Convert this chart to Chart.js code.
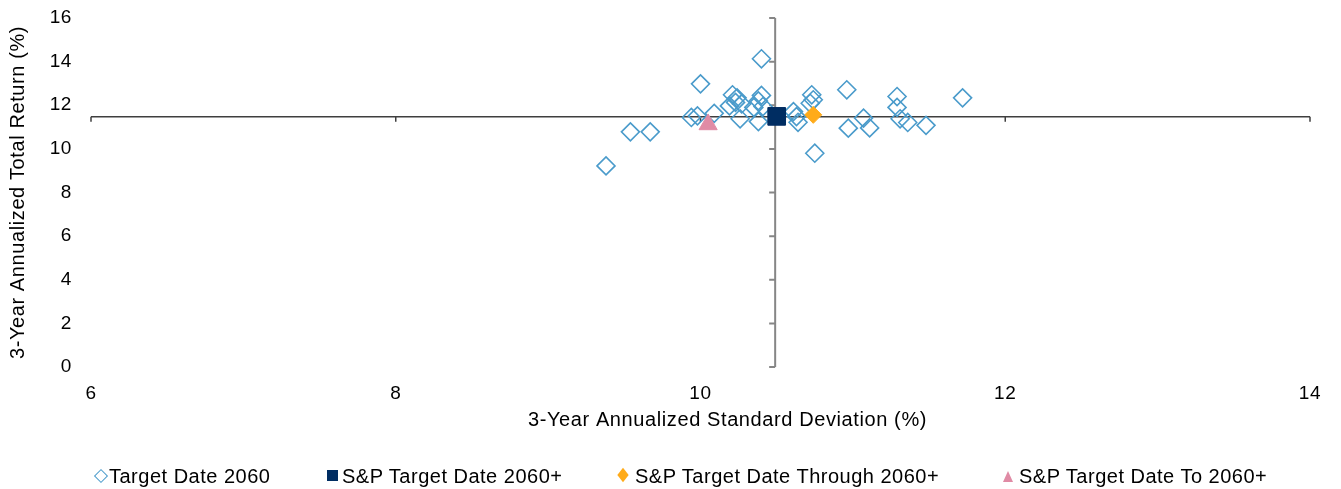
<!DOCTYPE html>
<html>
<head>
<meta charset="utf-8">
<script src="https://cdn.jsdelivr.net/npm/chart.js@4.4.0/dist/chart.umd.min.js"></script>
<style>
  body { margin: 0; background: #fff; }
  #wrap { position: relative; width: 1341px; height: 489px; }
  #graphe { position: absolute; left: 0; top: 0; }
  .leg { position: absolute; top: 466px; font: 20px "Liberation Sans", Arial, sans-serif; letter-spacing: 0.5px; line-height: 20px; color: #000; white-space: nowrap; }
  .mk { position: absolute; }
</style>
</head>
<body>
<div id="wrap">
  <canvas id="graphe" width="1341" height="489"></canvas>
</div>
<script>
//******************************************************************** Données *****************************************************************

// fonds Target Date 2060 : écart-type 3 ans (%) et rendement 3 ans (%)
const fundSD     = [9.38, 9.54, 9.67, 10.00, 9.94, 9.98, 10.09, 10.21, 10.24, 10.23, 10.19, 10.27, 10.40, 10.38, 10.35, 10.41, 10.26, 10.38, 10.40, 10.61, 10.63, 10.64, 10.73, 10.74, 10.72, 10.75, 10.96, 10.97, 11.07, 11.11, 11.29, 11.29, 11.31, 11.36, 11.48, 11.72]
const fundReturn = [9.22, 10.78, 10.78, 12.98, 11.44, 11.51, 11.63, 12.48, 12.34, 12.13, 11.97, 12.06, 12.45, 12.20, 11.90, 11.94, 11.38, 11.25, 14.13, 11.71, 11.48, 11.22, 12.48, 12.25, 12.09, 9.80, 12.71, 10.95, 11.41, 10.96, 12.40, 11.90, 11.38, 11.21, 11.08, 12.34]

// indices S&P
const sp2060SD = [10.50],        sp2060Return = [11.49]
const spThroughSD = [10.74],     spThroughReturn = [11.56]
const spToSD = [10.05],          spToReturn = [11.12]

const seriesNames = ['Target Date 2060', 'S&P Target Date 2060+', 'S&P Target Date Through 2060+', 'S&P Target Date To 2060+']
const X_TITLE = '3-Year Annualized Standard Deviation (%)'
const Y_TITLE = '3-Year Annualized Total Return (%)'

const X_TICKS = [6, 8, 10, 12, 14]
const Y_TICKS = [0, 2, 4, 6, 8, 10, 12, 14, 16]

// les axes se croisent sur l'indice S&P Target Date 2060+
const CROSS_X = 10.49
const CROSS_Y = 11.47

const BLUE = '#4a9bcb'
const NAVY = '#002d62'
const ORANGE = '#ffab1a'
const PINK = '#e08ba5'
const FONT = '"Liberation Sans", Arial, sans-serif'

function toPoints(xs, ys) {
  return xs.map((x, i) => ({ x: x, y: ys[i] }))
}

//******************************************************************** Plugins *****************************************************************

// un peu d'espacement entre les lettres pour coller à la police d'origine
const espacement = {
  id: 'espacement',
  beforeDraw(chart) {
    chart.ctx.letterSpacing = '0.6px'
  }
}

// axes qui se croisent au milieu du nuage de points
const axesCroises = {
  id: 'axesCroises',
  beforeDatasetsDraw(chart) {
    const { ctx, chartArea, scales } = chart
    const xPix = scales.x.getPixelForValue(CROSS_X)
    const yPix = scales.y.getPixelForValue(CROSS_Y)
    ctx.save()

    // ligne horizontale
    ctx.strokeStyle = '#3f3f3f'
    ctx.lineWidth = 1.5
    ctx.beginPath()
    ctx.moveTo(chartArea.left, yPix)
    ctx.lineTo(chartArea.right, yPix)
    for (const t of X_TICKS) {
      const px = scales.x.getPixelForValue(t)
      ctx.moveTo(px, yPix)
      ctx.lineTo(px, yPix + 5)
    }
    ctx.stroke()

    // ligne verticale
    ctx.strokeStyle = '#868686'
    ctx.lineWidth = 2
    ctx.beginPath()
    ctx.moveTo(xPix, chartArea.top)
    ctx.lineTo(xPix, chartArea.bottom)
    for (const t of Y_TICKS) {
      const py = scales.y.getPixelForValue(t)
      ctx.moveTo(xPix, py)
      ctx.lineTo(xPix - 6, py)
    }
    ctx.stroke()
    ctx.restore()
  },
  // titre de l'axe x, un peu décalé à droite comme sur l'original
  afterDraw(chart) {
    const { ctx, chartArea } = chart
    ctx.save()
    ctx.font = '20px ' + FONT
    ctx.fillStyle = '#000'
    ctx.textAlign = 'center'
    ctx.textBaseline = 'middle'
    ctx.fillText(X_TITLE, (chartArea.left + chartArea.right) / 2 + 27, chartArea.bottom + 53)
    ctx.restore()
  }
}

//******************************************************************** Graphe *****************************************************************

const DATAGRAPH = {
  datasets: [
    {
      label: seriesNames[0],
      data: toPoints(fundSD, fundReturn),
      pointStyle: 'rectRot',
      pointRadius: 9,
      borderColor: BLUE,
      backgroundColor: 'rgba(0,0,0,0)',
      borderWidth: 1.6,
      order: 4
    },
    {
      label: seriesNames[1],
      data: toPoints(sp2060SD, sp2060Return),
      pointStyle: 'rect',
      pointRadius: 12.5,
      borderColor: NAVY,
      backgroundColor: NAVY,
      borderWidth: 1,
      order: 3
    },
    {
      label: seriesNames[2],
      data: toPoints(spThroughSD, spThroughReturn),
      pointStyle: 'rectRot',
      pointRadius: 8.5,
      borderColor: ORANGE,
      backgroundColor: ORANGE,
      borderWidth: 1,
      order: 2
    },
    {
      label: seriesNames[3],
      data: toPoints(spToSD, spToReturn),
      pointStyle: 'triangle',
      pointRadius: 10.5,
      borderColor: PINK,
      backgroundColor: PINK,
      borderWidth: 1,
      order: 1
    }
  ]
}

const config = {
  type: 'scatter',
  data: DATAGRAPH,
  options: {
    responsive: false,
    animation: false,
    events: [],
    layout: { padding: { top: 18, right: 31, bottom: 52, left: 0 } },
    plugins: {
      legend: { display: false },
      tooltip: { enabled: false }
    },
    scales: {
      x: {
        type: 'linear',
        min: 6,
        max: 14,
        afterBuildTicks: (scale) => { scale.ticks = X_TICKS.map(v => ({ value: v })) },
        afterFit: (scale) => { scale.height = 70; scale.paddingLeft = 0; scale.paddingRight = 0 },
        grid: { display: false, drawTicks: false },
        border: { display: false },
        ticks: { color: '#000', padding: 15, font: { family: FONT, size: 19 } },
        title: { display: false, text: X_TITLE }
      },
      y: {
        type: 'linear',
        min: 0,
        max: 16,
        afterBuildTicks: (scale) => { scale.ticks = Y_TICKS.map(v => ({ value: v })) },
        afterFit: (scale) => { scale.width = 91; scale.paddingTop = 0; scale.paddingBottom = 0 },
        grid: { display: false, drawTicks: false },
        border: { display: false },
        ticks: { color: '#000', padding: 19, font: { family: FONT, size: 19 } },
        title: {
          display: true,
          text: Y_TITLE,
          color: '#000',
          padding: { top: 6, bottom: 0 },
          font: { family: FONT, size: 20 }
        }
      }
    }
  },
  plugins: [espacement, axesCroises]
}

const chart = new Chart(document.getElementById('graphe'), config)

//******************************************************************** Légende *****************************************************************

// légende en HTML pour placer chaque élément comme sur l'original
const legendItems = [
  { textLeft: 109,  marker: 'left:96px;top:471px;width:8px;height:8px;border:1.5px solid ' + BLUE + ';transform:rotate(45deg);' },
  { textLeft: 342,  marker: 'left:327px;top:470px;width:11px;height:11px;background:' + NAVY + ';' },
  { textLeft: 635,  marker: 'left:619px;top:471px;width:8px;height:8px;background:' + ORANGE + ';transform:scaleY(1.3) rotate(45deg);' },
  { textLeft: 1019, marker: 'left:1003px;top:471px;width:0;height:0;border-left:5px solid transparent;border-right:5px solid transparent;border-bottom:11px solid ' + PINK + ';' }
]

const WRAP = document.getElementById('wrap')
legendItems.forEach((item, i) => {
  const mk = document.createElement('div')
  mk.className = 'mk'
  mk.style.cssText = mk.style.cssText + item.marker
  WRAP.appendChild(mk)

  const txt = document.createElement('div')
  txt.className = 'leg'
  txt.style.left = item.textLeft + 'px'
  txt.textContent = seriesNames[i]
  WRAP.appendChild(txt)
})
</script>
</body>
</html>
